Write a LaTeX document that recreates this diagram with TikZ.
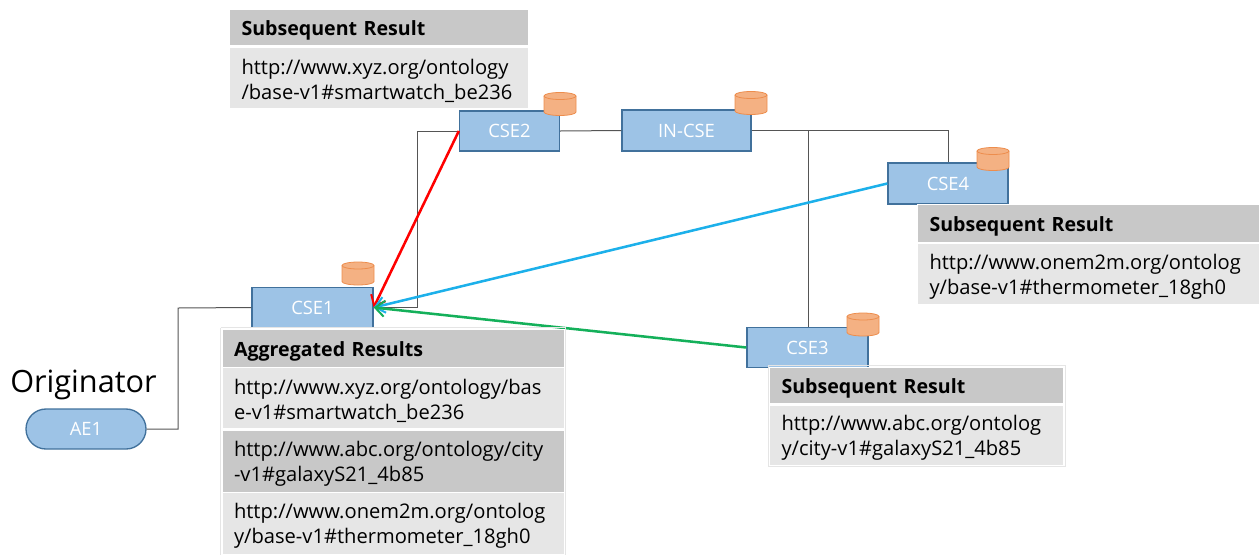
\documentclass[tikz,border=0pt]{standalone}
\usepackage{fontspec}
\setmainfont{Open Sans}
\usetikzlibrary{arrows.meta}
\def\px{0.75pt}
\definecolor{boxblue}{HTML}{9DC3E6}
\definecolor{boxedge}{HTML}{41719C}
\definecolor{dbfill}{HTML}{F4B183}
\definecolor{dbedge}{HTML}{ED8D4D}
\definecolor{headgray}{HTML}{C8C8C8}
\definecolor{bodygray}{HTML}{E6E6E6}
\definecolor{linegray}{HTML}{555555}
\definecolor{arrowblue}{HTML}{1CB0EA}
\definecolor{arrowgreen}{HTML}{14B05A}
\tikzset{
 csebox/.style={draw=boxedge,fill=boxblue,line width=1pt,text=white,inner sep=0pt,font=\fontsize{13.8}{15}\selectfont},
 dbcan/.pic={
  \draw[draw=dbedge,fill=dbfill,line width=0.6pt] (-16,8) arc (180:0:16 and 3.5) -- (16,-8) arc (360:180:16 and 3.5) -- cycle;
  \draw[draw=dbedge,line width=0.6pt] (-16,-8) arc (180:0:16 and 3.5);
 },
 link/.style={draw=linegray,line width=0.75pt},
 result/.style={line width=1.9pt,-{Straight Barb[length=7pt,width=12pt,line width=1.5pt]}},
 cell/.style={anchor=west,draw=white,line width=0.75pt,inner xsep=12*\px,inner ysep=0pt,align=left,text=black,font=\fontsize{15.1}{18.75}\selectfont,execute at begin node={\rule{0pt}{16pt}}},
 headcell/.style={cell,fill=headgray,font=\fontsize{14.7}{18.75}\selectfont\bfseries},
 bodycell/.style={cell,fill=bodygray},
 tableedge/.style={draw=black!10,line width=0.75pt}
}
\begin{document}
\begin{tikzpicture}[x=\px,y=-\px]
 \useasboundingbox (0,0) rectangle (1259,554);
 % nodes
 \node[csebox,minimum width=121*\px,minimum height=40*\px] (cseone) at (312.5,307.5) {CSE1};
 \node[csebox,minimum width=100*\px,minimum height=40*\px] (csetwo) at (509.5,131) {CSE2};
 \node[csebox,minimum width=121*\px,minimum height=40*\px] (csethree) at (807.5,347.5) {CSE3};
 \node[csebox,minimum width=120*\px,minimum height=41*\px] (csefour) at (948,183.5) {CSE4};
 \node[csebox,minimum width=129*\px,minimum height=41*\px] (incse) at (686.5,130.5) {IN-CSE};
 \node[csebox,rounded corners=20*\px,minimum width=120*\px,minimum height=40*\px] (aeone) at (86,429) {AE1};
 \node[anchor=base,text=black,font=\fontsize{23}{28}\selectfont] (orig) at (83.5,392) {Originator};
 \pic at (358,273.5) {dbcan};
 \pic at (560,104) {dbcan};
 \pic at (751,103) {dbcan};
 \pic at (993,159) {dbcan};
 \pic at (863,324.5) {dbcan};
 % lines
 \coordinate (bendae) at (178,308);
 \coordinate (bendone) at (417,307.5);
 \coordinate (bendtwo) at (417,131);
 \coordinate (branch) at (808,130.5);
 \draw[link] (aeone.east) -| (bendae) -- (cseone.west);
 \draw[link] (cseone.east) -- (bendone) -- (bendtwo) -- (csetwo.west);
 \draw[link] (csetwo.east) -- (incse.west);
 \draw[link] (incse.east) -| (csefour.north);
 \draw[link] (branch) -- (branch |- csethree.north);
 % arrows
 \draw[result,red] (csetwo.west) -- (cseone.east);
 \draw[result,arrowblue] (csefour.west) -- (cseone.east);
 \draw[result,arrowgreen] (csethree.west) -- (cseone.east);
 % result tables
 \node[headcell,minimum width=299*\px,minimum height=36*\px,text width=275*\px] (headtwo) at (229,27) {Subsequent Result};
 \node[bodycell,minimum width=299*\px,minimum height=61*\px,text width=275*\px] (bodytwo) at (229,77.5) {http://www.xyz.org/ontology\\/base-v1\#smartwatch\_be236};
 \node[headcell,minimum width=342*\px,minimum height=38*\px,text width=318*\px] (headfour) at (917,223) {Subsequent Result};
 \node[bodycell,minimum width=342*\px,minimum height=61*\px,text width=318*\px] (bodyfour) at (917,274) {http://www.onem2m.org/ontolog\\y/base-v1\#thermometer\_18gh0};
 \node[headcell,minimum width=294*\px,minimum height=36*\px,text width=270*\px] (headthree) at (769,385) {Subsequent Result};
 \node[bodycell,minimum width=294*\px,minimum height=60*\px,text width=270*\px] (bodythree) at (769,435) {http://www.abc.org/ontolog\\y/city-v1\#galaxyS21\_4b85};
 \draw[tableedge] ([shift={(-1,-1)}]headthree.north west) rectangle ([shift={(1,1)}]bodythree.south east);
 \node[headcell,minimum width=342*\px,minimum height=38*\px,text width=318*\px] (headagg) at (221.5,348) {Aggregated Results};
 \node[bodycell,minimum width=342*\px,minimum height=61*\px,text width=318*\px] (rowone) at (221.5,398) {http://www.xyz.org/ontology/bas\\e-v1\#smartwatch\_be236};
 \node[cell,fill=headgray,minimum width=342*\px,minimum height=62*\px,text width=318*\px] (rowtwo) at (221.5,461) {http://www.abc.org/ontology/city\\-v1\#galaxyS21\_4b85};
 \node[bodycell,minimum width=342*\px,minimum height=62*\px,text width=318*\px] (rowthree) at (221.5,523) {http://www.onem2m.org/ontolog\\y/base-v1\#thermometer\_18gh0};
 \draw[tableedge] ([shift={(-1,-1)}]headagg.north west) -- ([shift={(-1,0)}]rowthree.south west);
 \draw[tableedge] ([shift={(-1,-1)}]headagg.north west) -- ([shift={(1,-1)}]headagg.north east) -- ([shift={(1,0)}]rowthree.south east);
\end{tikzpicture}
\end{document}
